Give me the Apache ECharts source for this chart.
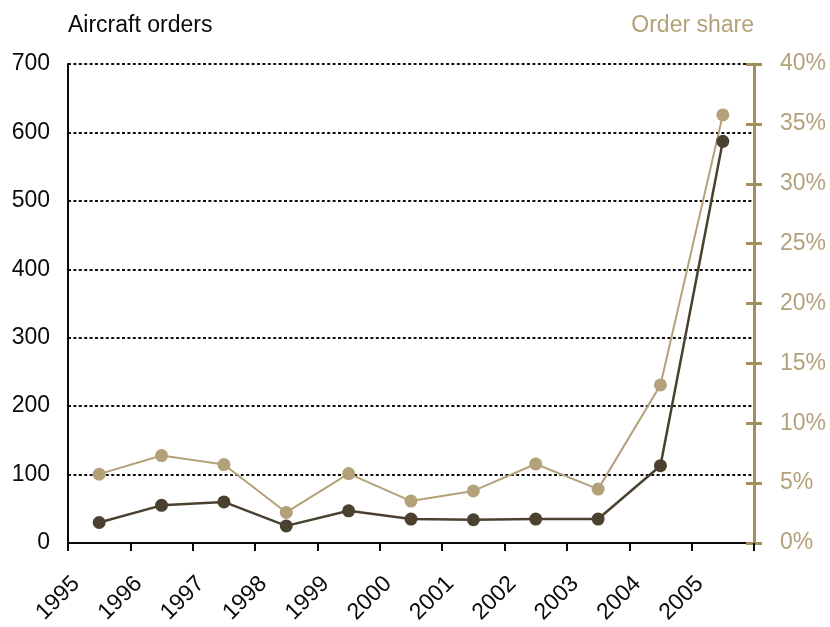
<!DOCTYPE html>
<html>
<head>
<meta charset="utf-8">
<script src="https://cdn.jsdelivr.net/npm/echarts@6/dist/echarts.min.js"></script>
<style>
  html, body { margin: 0; padding: 0; background: #ffffff; }
  #chart { width: 830px; height: 627px; }
</style>
</head>
<body>
<div id="chart"></div>
<script>
// Years along the horizontal axis
const years = ['1995', '1996', '1997', '1998', '1999', '2000', '2001', '2002', '2003', '2004', '2005'];
// Number of aircraft ordered each year (left axis)
const aircraftOrders = [30, 55, 60, 25, 47, 35, 34, 35, 35, 113, 587];
// Share of total orders, in percent (right axis)
const orderShare = [5.75, 7.3, 6.55, 2.55, 5.8, 3.5, 4.35, 6.6, 4.5, 13.2, 35.75];
// Left axis ticks
const ordersAxis = { min: 0, max: 700, interval: 100 };
// Right axis ticks (percent)
const shareAxis = { min: 0, max: 40, interval: 5 };

const FONT = "'Liberation Sans', Arial, Helvetica, sans-serif";
const DARK = '#4b4130';
const TAN = '#b3a179';
const TAN_AXIS = '#a38e5e';
const INK = '#0a0a0a';
const FS = 23;

const chart = echarts.init(document.getElementById('chart'), null, { renderer: 'canvas' });

chart.setOption({
  backgroundColor: '#ffffff',
  animation: false,
  textStyle: { fontFamily: FONT },
  grid: { left: 68, right: 76, top: 64, bottom: 84, containLabel: false },
  xAxis: [
    {
      // Data axis: one band per year, ticks on band edges
      type: 'category',
      data: years,
      boundaryGap: true,
      position: 'bottom',
      axisLine: { show: true, lineStyle: { color: INK, width: 2 } },
      axisTick: { show: true, length: 8, lineStyle: { color: INK, width: 2 } },
      axisLabel: { show: false },
      splitLine: { show: false }
    },
    {
      // Year labels sit on the band edges
      type: 'category',
      data: years.concat(['']),
      boundaryGap: false,
      position: 'bottom',
      axisLine: { show: false },
      axisTick: { show: false },
      splitLine: { show: false },
      axisLabel: {
        show: true,
        interval: 0,
        rotate: 45,
        verticalAlign: 'top',
        margin: 29,
        fontSize: FS,
        color: INK,
        fontFamily: FONT
      }
    }
  ],
  yAxis: [
    {
      type: 'value',
      position: 'left',
      min: ordersAxis.min,
      max: ordersAxis.max,
      interval: ordersAxis.interval,
      name: 'Aircraft orders',
      nameLocation: 'end',
      nameGap: 38,
      nameTextStyle: { fontSize: FS, color: INK, align: 'left', verticalAlign: 'middle', fontFamily: FONT },
      axisLine: { show: true, lineStyle: { color: INK, width: 2 } },
      axisTick: { show: false },
      axisLabel: { fontSize: FS, color: INK, margin: 18, fontFamily: FONT },
      splitLine: { show: true, lineStyle: { color: '#111111', width: 2, type: [3, 2.4] } }
    },
    {
      type: 'value',
      position: 'right',
      min: shareAxis.min,
      max: shareAxis.max,
      interval: shareAxis.interval,
      name: 'Order share',
      nameLocation: 'end',
      nameGap: 38,
      nameTextStyle: { fontSize: FS, color: TAN, align: 'right', verticalAlign: 'middle', fontFamily: FONT },
      axisLine: { show: true, lineStyle: { color: TAN_AXIS, width: 3 } },
      axisTick: { show: true, inside: false, length: 8, lineStyle: { color: TAN_AXIS, width: 3 } },
      axisLabel: { fontSize: FS, color: TAN, margin: 26, formatter: '{value}%', fontFamily: FONT },
      splitLine: { show: false }
    },
    {
      // Inner half of the right-axis ticks
      type: 'value',
      position: 'right',
      min: shareAxis.min,
      max: shareAxis.max,
      interval: shareAxis.interval,
      axisLine: { show: false },
      axisTick: { show: true, inside: true, length: 8, lineStyle: { color: TAN_AXIS, width: 3 } },
      axisLabel: { show: false },
      splitLine: { show: false }
    }
  ],
  series: [
    {
      name: 'Order share',
      type: 'line',
      xAxisIndex: 0,
      yAxisIndex: 1,
      data: orderShare,
      symbol: 'circle',
      symbolSize: 13,
      lineStyle: { color: TAN, width: 2 },
      itemStyle: { color: TAN },
      z: 3
    },
    {
      name: 'Aircraft orders',
      type: 'line',
      xAxisIndex: 0,
      yAxisIndex: 0,
      data: aircraftOrders,
      symbol: 'circle',
      symbolSize: 13,
      lineStyle: { color: DARK, width: 2.5 },
      itemStyle: { color: DARK },
      z: 4
    }
  ]
});
</script>
</body>
</html>
